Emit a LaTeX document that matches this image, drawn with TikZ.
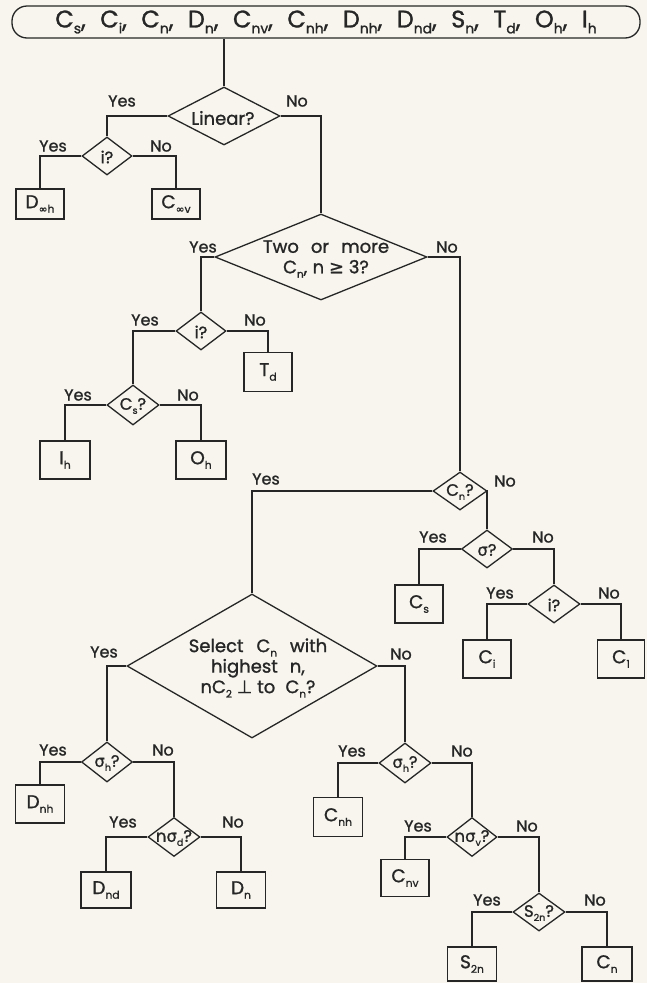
\documentclass[tikz,border=0pt]{standalone}
\usepackage{fontspec}
\usepackage{graphicx}
\setmainfont{Poppins}[FakeBold=1.2]
\newfontfamily\symf{DejaVu Sans}[FakeBold=0.8]
\usetikzlibrary{shapes.geometric}
\newcommand\sbs[1]{\raisebox{-0.45ex}{\scalebox{0.58}{#1}}}
\newcommand\sg{{\symf σ}}
\newcommand\inff{{\symf ∞}}
\newcommand\lbf{\fontsize{16}{17}\selectfont}
\newcommand\bxf{\fontsize{18.5}{20}\selectfont}
\newcommand\dff{\fontsize{16.5}{18}\selectfont}
\newcommand\bigf{\fontsize{18}{19}\selectfont}
\newcommand\topf{\fontsize{24}{25}\selectfont}
\newcommand\tg{\hspace{0.6em}}
\definecolor{ink}{HTML}{262626}
\definecolor{paper}{HTML}{F7F5EE}
\begin{document}
\begin{tikzpicture}[x=1pt,y=-1pt,line width=1.3pt,color=ink,
  dia/.style n args={2}{shape=diamond,draw=ink,inner sep=0pt,minimum width=#1,minimum height=#2},
  box/.style n args={2}{shape=rectangle,draw=ink,inner sep=0pt,minimum width=#1,minimum height=#2,font=\bxf},
  dtext/.style={font=\dff,inner sep=0pt,text=ink},
  lab/.style={font=\lbf,inner sep=0pt,text=ink}]
\fill[paper] (0,0) rectangle (647,983);
% top box
\node[draw=ink,rounded corners=15,minimum width=628,minimum height=32,inner sep=0pt,font=\topf] (top) at (326,22)
 {C\sbs{s},\tg C\sbs{i},\tg C\sbs{n},\tg D\sbs{n},\tg C\sbs{nv},\tg C\sbs{nh},\tg D\sbs{nh},\tg D\sbs{nd},\tg S\sbs{n},\tg T\sbs{d},\tg O\sbs{h},\tg I\sbs{h}};
% diamonds
\node[dia={112}{58}] (lin) at (224,116) {};
\node[dtext,font=\fontsize{18}{20}\selectfont] at (223,118) {Linear?};
\node[dia={50}{38}] (i1) at (107,156) {};
\node[dtext] at (107,157) {i?};
\node[dia={212}{86}] (two) at (321,257) {};
\node[dtext,font=\bigf,align=center] at (326,259) {Two\hspace{0.4em} or\hspace{0.4em} more\\[1.5pt]C\sbs{n},\hspace{0.3em}n {\symf ≥} 3?};
\node[dia={50}{38}] (i2) at (201,331) {};
\node[dtext] at (201,332) {i?};
\node[dia={52}{40}] (csq) at (133,405) {};
\node[dtext] at (133,406) {C\sbs{s}?};
\node[dia={54}{38}] (cnq) at (460,491) {};
\node[dtext] at (460,492) {C\sbs{n}?};
\node[dia={51}{38}] (sig) at (487,549) {};
\node[dtext] at (487,550) {\sg?};
\node[dia={52}{38}] (i3) at (554,604) {};
\node[dtext] at (554,605) {i?};
\node[dia={250}{144}] (sel) at (252,666) {};
\node[dtext,font=\bigf,align=center] at (258,668) {Select\hspace{0.45em} C\sbs{n}\hspace{0.45em} with\\[1.5pt]highest\hspace{0.4em} n,\\[1.5pt]nC\sbs{2} {\symf ⊥} to\hspace{0.3em} C\sbs{n}?};
\node[dia={51}{40}] (sh1) at (107,762) {};
\node[dtext] at (107,763) {\sg\sbs{h}?};
\node[dia={52}{39}] (nsd) at (174,837) {};
\node[dtext] at (174,838) {n\sg\sbs{d}?};
\node[dia={52}{40}] (sh2) at (405,763) {};
\node[dtext] at (405,764) {\sg\sbs{h}?};
\node[dia={50}{39}] (nsv) at (472,837) {};
\node[dtext] at (472,838) {n\sg\sbs{v}?};
\node[dia={52}{38}] (s2q) at (539,912) {};
\node[dtext] at (539,913) {S\sbs{2n}?};
% boxes
\node[box={48}{30}] (dinfh) at (40,204) {D\sbs{\inff h}};
\node[box={48}{30}] (cinfv) at (176,204) {C\sbs{\inff v}};
\node[box={48}{39}] (td) at (268,372) {T\sbs{d}};
\node[box={50}{38}] (ih) at (65,460) {I\sbs{h}};
\node[box={50}{38}] (oh) at (201,460) {O\sbs{h}};
\node[box={48}{38}] (cs) at (419,604) {C\sbs{s}};
\node[box={48}{38}] (ci) at (487,659) {C\sbs{i}};
\node[box={47}{38}] (c1) at (621,659) {C\sbs{1}};
\node[box={49}{38}] (dnh) at (40,804) {D\sbs{nh}};
\node[box={50}{36}] (dnd) at (106,890) {D\sbs{nd}};
\node[box={49}{36}] (dn) at (241,890) {D\sbs{n}};
\node[box={49}{39}] (cnh) at (338,817) {C\sbs{nh}};
\node[box={48}{37}] (cnv) at (405,878) {C\sbs{nv}};
\node[box={49}{34}] (s2n) at (472,964) {S\sbs{2n}};
\node[box={50}{34}] (cnb) at (607,964) {C\sbs{n}};
% connectors
\draw (lin.north) -- (lin.north |- top.south);
\draw (lin.west) -| (i1.north);
\draw (lin.east) -| (two.north);
\draw (i1.west) -| (dinfh.north);
\draw (i1.east) -| (cinfv.north);
\draw (two.west) -| (i2.north);
\draw (two.east) -| (cnq.north);
\draw (i2.west) -| (csq.north);
\draw (i2.east) -| (td.north);
\draw (csq.west) -| (ih.north);
\draw (csq.east) -| (oh.north);
\draw (cnq.west) -| (sel.north);
\draw (cnq.east) -| (sig.north);
\draw (sig.west) -| (cs.north);
\draw (sig.east) -| (i3.north);
\draw (i3.west) -| (ci.north);
\draw (i3.east) -| (c1.north);
\draw (sel.west) -| (sh1.north);
\draw (sel.east) -| (sh2.north);
\draw (sh1.west) -| (dnh.north);
\draw (sh1.east) -| (nsd.north);
\draw (nsd.west) -| (dnd.north);
\draw (nsd.east) -| (dn.north);
\draw (sh2.west) -| (cnh.north);
\draw (sh2.east) -| (nsv.north);
\draw (nsv.west) -| (cnv.north);
\draw (nsv.east) -| (s2q.north);
\draw (s2q.west) -| (s2n.north);
\draw (s2q.east) -| (cnb.north);
% labels
\node[lab] at (122,101) {Yes};
\node[lab] at (297,101) {No};
\node[lab] at (53,146) {Yes};
\node[lab] at (161,146) {No};
\node[lab] at (203,247) {Yes};
\node[lab] at (447,247) {No};
\node[lab] at (145,320) {Yes};
\node[lab] at (255,320) {No};
\node[lab] at (78,395) {Yes};
\node[lab] at (188,395) {No};
\node[lab] at (266,479) {Yes};
\node[lab] at (505,481) {No};
\node[lab] at (433,537) {Yes};
\node[lab] at (543,537) {No};
\node[lab] at (500,593) {Yes};
\node[lab] at (609,593) {No};
\node[lab] at (104,652) {Yes};
\node[lab] at (401,654) {No};
\node[lab] at (53,750) {Yes};
\node[lab] at (163,750) {No};
\node[lab] at (123,822) {Yes};
\node[lab] at (233,822) {No};
\node[lab] at (352,751) {Yes};
\node[lab] at (462,751) {No};
\node[lab] at (418,826) {Yes};
\node[lab] at (527,826) {No};
\node[lab] at (487,900) {Yes};
\node[lab] at (595,900) {No};
\end{tikzpicture}
\end{document}
